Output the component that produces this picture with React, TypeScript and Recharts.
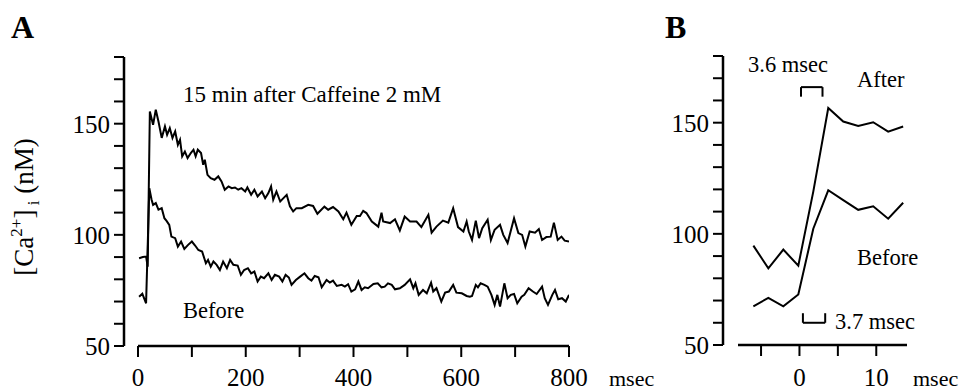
import React from 'react';
import { LineChart, Line, XAxis, YAxis, ReferenceLine } from 'recharts';

const FONT = '"Liberation Serif", serif';

// panel A, msec vs [Ca2+]i (nM)
const afterTimeA = [
    2, 9, 15, 18, 22, 28, 33, 38, 44, 50, 54, 59, 64, 69, 74, 78, 82, 87, 92, 98,
    103, 107, 111, 117, 121, 124, 129, 135, 142, 149, 155, 161, 168, 174, 180, 186, 192, 199, 203, 210,
    216, 222, 230, 236, 242, 247, 251, 257, 264, 270, 276, 282, 288, 294, 304, 316, 325, 333, 346, 353,
    362, 372, 381, 387, 396, 406, 412, 418, 424, 434, 446, 452, 455, 468, 477, 486, 495, 505, 517, 526,
    539, 545, 554, 566, 576, 585, 594, 604, 610, 614, 620, 627, 633, 639, 649, 655, 662, 672, 678, 686,
    698, 706, 713, 719, 727, 737, 744, 750, 758, 766, 772, 779, 786, 792, 800,
];
const afterCaA = [
    89.5, 90, 90.2, 85.7, 155.5, 149.5, 156.3, 151, 143.6, 148.8, 145, 148, 143.6, 146.5, 140.5, 142.8, 135.3, 137.5, 134.5, 136.8,
    138.3, 135.3, 138.3, 136.8, 131.5, 133.8, 127, 125.5, 124.8, 126.3, 124, 120.3, 121.8, 121, 121.3, 120.3, 121, 119.5, 121.3, 118,
    120.3, 117.3, 119.5, 116.5, 118.8, 121.8, 115.8, 119.5, 115, 116.5, 118, 112.8, 110.5, 112, 112, 113.5, 113, 109.5, 112.7, 111.3,
    112.5, 110.5, 107, 110, 104.5, 108.5, 108.5, 110.8, 109.8, 106, 103.7, 110, 106, 105.3, 107, 102, 108.2, 106, 106, 103.5,
    109, 101, 103.7, 106.4, 105.5, 112, 103.5, 101.5, 106, 101.5, 97.7, 106.4, 98.5, 103, 106.8, 97.7, 102.3, 104.5, 100, 96.3,
    107.5, 100.8, 100, 94.7, 101.5, 101, 102.6, 97.7, 99, 99.2, 105.5, 97.7, 99.2, 97.4, 97,
];
const beforeTimeA = [
    2, 8, 15, 21, 25, 28, 33, 38, 44, 49, 53, 58, 62, 69, 74, 80, 86, 93, 100, 106,
    112, 119, 126, 130, 135, 140, 146, 152, 158, 165, 171, 177, 185, 191, 197, 204, 210, 216, 222, 228,
    234, 242, 248, 254, 262, 268, 274, 280, 285, 293, 301, 309, 316, 322, 328, 335, 341, 350, 356, 362,
    369, 378, 384, 390, 396, 403, 409, 415, 421, 427, 437, 445, 452, 458, 464, 471, 477, 486, 495, 505,
    511, 515, 521, 529, 536, 544, 548, 554, 563, 570, 577, 585, 591, 601, 610, 616, 620, 627, 631, 636,
    643, 649, 656, 662, 667, 672, 680, 686, 692, 698, 704, 712, 717, 725, 733, 740, 750, 755, 761, 769,
    774, 780, 787, 794, 800,
];
const beforeCaA = [
    72.2, 73.5, 69.2, 121, 116, 113.5, 114.3, 111.3, 112, 107.5, 106.3, 104.5, 99.2, 98.5, 94.7, 97, 93.7, 95.5, 97, 95.2,
    93.2, 92.5, 87.2, 88.7, 85.7, 88, 86.5, 84.2, 88, 85, 88.7, 86.5, 86.2, 82, 84.2, 85, 82.7, 83.5, 79, 81.2,
    80.5, 82.7, 79.7, 82, 81.2, 79, 82, 80.8, 77.5, 79.7, 81.2, 82.7, 80.5, 79.4, 81.5, 80.9, 76.4, 79.7, 78.5, 79.4,
    77, 77.5, 76.7, 77.8, 74.5, 75.5, 79, 75.2, 76.4, 76, 77.9, 78.2, 76.4, 76.7, 78.2, 77.5, 75.5, 76, 77.5, 80,
    76, 78.2, 73, 75.2, 73.7, 78.5, 74.5, 76, 70, 74, 74.5, 77.5, 74, 73.7, 72.5, 72.2, 72.5, 77.5, 76.4, 78.2,
    77.5, 76.7, 73, 68.5, 73, 67.7, 78.2, 71.5, 73, 73.4, 69.2, 72.2, 73, 76, 74.5, 73.4, 76.7, 71.5, 68.5, 73,
    75.2, 71, 71.5, 70, 73,
];

// panel B, the rise on a finer time scale
const timeB = [-6, -4.05, -2.1, -0.15, 1.8, 3.75, 5.7, 7.65, 9.6, 11.55, 13.5];
const afterCaB = [94.7, 84.5, 92.9, 85.7, 119, 156.6, 150.5, 148.5, 150.2, 146, 148.3];
const beforeCaB = [67.4, 71.2, 67.4, 72.7, 102.3, 119.6, 115.2, 110.8, 112.4, 106.8, 114];

const yTicks = [50, 60, 70, 80, 90, 100, 110, 120, 130, 140, 150, 160, 170, 180];
const yLabels = [50, 100, 150];
const xTicksA = [0, 100, 200, 300, 400, 500, 600, 700, 800];
const xLabelsA = [0, 200, 400, 600, 800];
const xTicksB = [-5, 0, 5, 10];
const xLabelsB = [0, 10];

const afterA = afterTimeA.map((t, i) => ({ t, v: afterCaA[i] }));
const beforeA = beforeTimeA.map((t, i) => ({ t, v: beforeCaA[i] }));
const afterB = timeB.map((t, i) => ({ t, v: afterCaB[i] }));
const beforeB = timeB.map((t, i) => ({ t, v: beforeCaB[i] }));

const tickFont = { fill: '#000', fontSize: 25, fontFamily: FONT };
const axisStroke = { stroke: '#000', strokeWidth: 2.5 };
const tickStroke = { stroke: '#000', strokeWidth: 2 };

const only = (list: number[]) => (v: number) => (list.includes(v) ? String(v) : '');

const trace = (data: { t: number; v: number }[], key: string) => (
    <Line
        key={key}
        data={data}
        dataKey="v"
        type="linear"
        stroke="#000"
        strokeWidth={2}
        dot={false}
        activeDot={false}
        isAnimationActive={false}
    />
);

const yAxis = (width: number) => (
    <YAxis
        type="number"
        domain={[50, 180]}
        ticks={yTicks}
        interval={0}
        tickFormatter={only(yLabels)}
        width={width}
        axisLine={axisStroke}
        tickLine={tickStroke}
        tickSize={10}
        tickMargin={4}
        tick={tickFont}
    />
);

const bracket = (x1: number, x2: number, y: number, legTo: number) => [
    <ReferenceLine key="h" segment={[{ x: x1, y }, { x: x2, y }]} stroke="#000" strokeWidth={2} ifOverflow="visible" />,
    <ReferenceLine key="l" segment={[{ x: x1, y }, { x: x1, y: legTo }]} stroke="#000" strokeWidth={2} ifOverflow="visible" />,
    <ReferenceLine key="r" segment={[{ x: x2, y }, { x: x2, y: legTo }]} stroke="#000" strokeWidth={2} ifOverflow="visible" />,
];

export default function App() {
    return (
        <div style={{ position: 'absolute', left: 0, top: 0, width: 959, height: 392, background: '#fff' }}>
            <div style={{ position: 'absolute', left: 0, top: 0 }}>
                <LineChart width={640} height={392} margin={{ top: 57, right: 71, bottom: 0, left: 0 }}>
                    <XAxis
                        type="number"
                        dataKey="t"
                        domain={[0, 800]}
                        ticks={xTicksA}
                        interval={0}
                        tickFormatter={only(xLabelsA)}
                        padding={{ left: 14, right: 0 }}
                        axisLine={false}
                        tickLine={tickStroke}
                        tickSize={11}
                        tickMargin={11}
                        height={46}
                        tick={tickFont}
                        allowDataOverflow
                    />
                    {yAxis(124)}
                    <ReferenceLine segment={[{ x: 0, y: 50 }, { x: 800, y: 50 }]} stroke="#000" strokeWidth={2.5} ifOverflow="visible" />
                    {trace(afterA, 'after')}
                    {trace(beforeA, 'before')}
                </LineChart>
            </div>
            <div style={{ position: 'absolute', left: 640, top: 0 }}>
                <LineChart width={319} height={392} margin={{ top: 56, right: 52, bottom: 0, left: 0 }}>
                    <XAxis
                        type="number"
                        dataKey="t"
                        domain={[-8, 14]}
                        ticks={xTicksB}
                        interval={0}
                        tickFormatter={only(xLabelsB)}
                        padding={{ left: 15, right: 0 }}
                        axisLine={false}
                        tickLine={tickStroke}
                        tickSize={11}
                        tickMargin={12}
                        height={47}
                        tick={tickFont}
                        allowDataOverflow
                    />
                    {yAxis(83)}
                    <ReferenceLine segment={[{ x: -8, y: 50 }, { x: 14, y: 50 }]} stroke="#000" strokeWidth={2.5} ifOverflow="visible" />
                    {bracket(0.2, 3, 166, 161.7)}
                    {bracket(0.45, 3.35, 60, 64.3)}
                    {trace(afterB, 'after')}
                    {trace(beforeB, 'before')}
                </LineChart>
            </div>
            <svg width={959} height={392} style={{ position: 'absolute', left: 0, top: 0, pointerEvents: 'none' }} fontFamily={FONT}>
                <text x={11} y={38} fontSize={32} fontWeight="bold">A</text>
                <text x={665} y={38} fontSize={32} fontWeight="bold">B</text>
                <text transform="translate(33 207) rotate(-90)" textAnchor="middle" fontSize={27}>
                    [Ca<tspan fontSize={17} dy={-11}>2+</tspan><tspan dy={11}>]</tspan>
                    <tspan fontSize={17} dy={6}> i</tspan><tspan dy={-6}> (nM)</tspan>
                </text>
                <text x={183} y={102} fontSize={23}>15 min after Caffeine 2 mM</text>
                <text x={183} y={318} fontSize={22.5}>Before</text>
                <text x={609} y={386} fontSize={22}>msec</text>
                <text x={748} y={72} fontSize={22.5}>3.6 msec</text>
                <text x={857} y={87} fontSize={22.5}>After</text>
                <text x={857} y={265} fontSize={22.5}>Before</text>
                <text x={835} y={329} fontSize={22.5}>3.7 msec</text>
                <text x={913} y={386} fontSize={22}>msec</text>
            </svg>
        </div>
    );
}
